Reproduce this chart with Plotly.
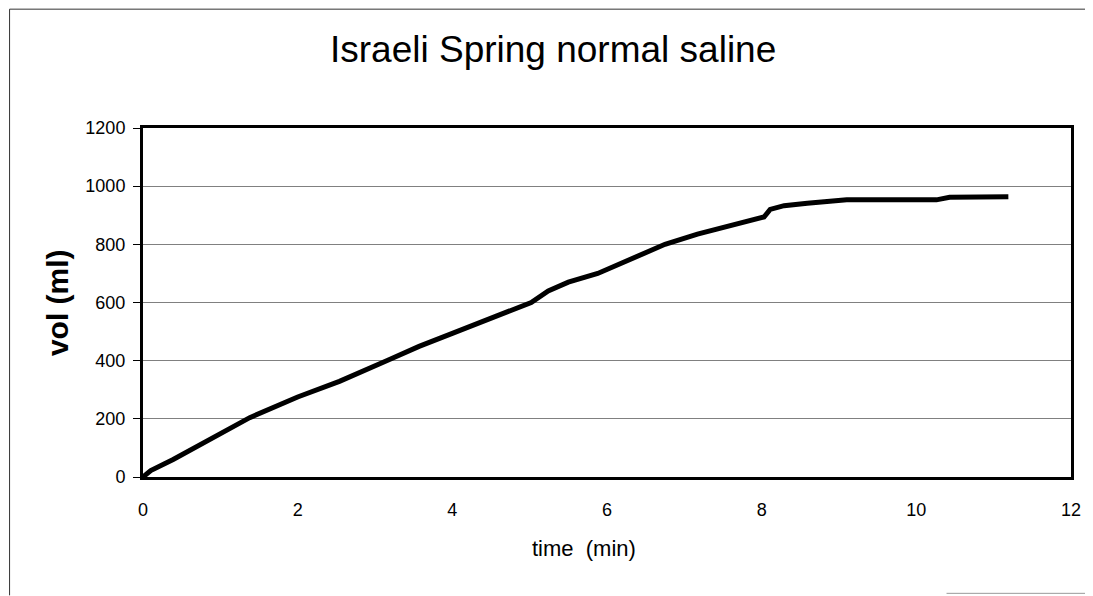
import plotly.graph_objects as go

# volume
time_min = [0, 0.1, 0.39, 0.8, 1.38, 2.0, 2.54, 3.18, 3.57, 4.0, 4.5, 5.02, 5.24,
            5.5, 5.88, 6.31, 6.75, 7.17, 7.69, 8.03, 8.11, 8.29, 8.59, 9.10,
            10.26, 10.43, 11.19]
vol_ml = [0, 22, 60, 120, 204, 275, 329, 403, 449, 494, 545, 600, 640,
          670, 700, 750, 800, 835, 869, 894, 920, 933, 941, 953,
          953, 962, 964]

x_ticks = [0, 2, 4, 6, 8, 10, 12]
y_ticks = [0, 200, 400, 600, 800, 1000, 1200]

# page body has an 8px margin, so the figure starts at (8, 8) on screen
OFF = 8
W, H = 1093 - OFF, 596 - OFF
PL, PR, PT, PB = 143, 1075, 128, 477.5   # plot box in screen pixels


def px(sx):
    return (sx - PL) / (PR - PL)


def py(sy):
    return (PB - sy) / (PB - PT)


fig = go.Figure()
fig.add_trace(go.Scatter(
    x=time_min, y=vol_ml, mode="lines",
    line=dict(color="black", width=5),
    showlegend=False, hoverinfo="skip",
))

axis_font = dict(family="Arial, Liberation Sans, sans-serif", size=18, color="black")

fig.update_xaxes(
    range=[0, 12], tickvals=x_ticks, showgrid=False, zeroline=False,
    showline=True, mirror=True, linecolor="black", linewidth=3,
    ticks="outside", ticklen=0, ticklabelstandoff=14, tickfont=axis_font,
)
fig.update_yaxes(
    range=[0, 1200], tickvals=y_ticks, showgrid=True, gridcolor="#808080",
    gridwidth=1, zeroline=False,
    showline=True, mirror=True, linecolor="black", linewidth=3,
    ticks="outside", ticklen=7, tickcolor="black", ticklabelstandoff=4,
    tickfont=axis_font,
)

fig.update_layout(
    width=W, height=H,
    margin=dict(l=PL - OFF, r=W - (PR - OFF), t=PT - OFF, b=H - (PB - OFF)),
    paper_bgcolor="white", plot_bgcolor="white",
    annotations=[
        dict(text="Israeli Spring normal saline", x=px(555), y=py(49),
             xref="paper", yref="paper", showarrow=False,
             xanchor="center", yanchor="middle",
             font=dict(family="Arial, Liberation Sans, sans-serif", size=37, color="black")),
        dict(text="time  (min)", x=px(586), y=py(549),
             xref="paper", yref="paper", showarrow=False,
             xanchor="center", yanchor="middle",
             font=dict(family="Arial, Liberation Sans, sans-serif", size=22, color="black")),
        dict(text="<b>vol (ml)</b>", x=px(57), y=py(303), textangle=-90,
             xref="paper", yref="paper", showarrow=False,
             xanchor="center", yanchor="middle",
             font=dict(family="Arial, Liberation Sans, sans-serif", size=30, color="black")),
    ],
    shapes=[
        # outer chart frame (left and top edges, faint bottom right)
        dict(type="line", xref="paper", yref="paper",
             x0=px(9), x1=px(9), y0=py(9), y1=py(596),
             line=dict(color="#333333", width=1)),
        dict(type="line", xref="paper", yref="paper",
             x0=px(9), x1=px(1093), y0=py(9), y1=py(9),
             line=dict(color="#333333", width=1)),
        dict(type="line", xref="paper", yref="paper",
             x0=px(950), x1=px(1093), y0=py(594), y1=py(594),
             line=dict(color="#999999", width=1)),
    ],
)

fig.write_html("out.html")
